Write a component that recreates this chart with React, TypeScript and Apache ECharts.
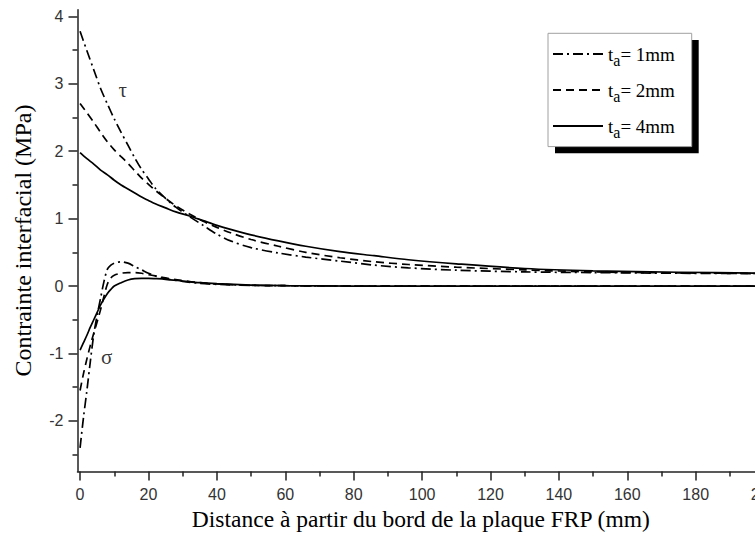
import React, { useEffect, useRef } from "react";
import * as echarts from "echarts";

// Shear stress tau (MPa) vs distance (mm)
const tauX = [0, 2, 4, 6, 8, 10, 12, 14, 16, 18, 20, 22, 25, 28, 32, 36, 40, 44, 50, 58, 66, 76, 86, 96, 110, 130, 150, 175, 200];
const tau1 = [3.78, 3.49, 3.21, 2.93, 2.7, 2.48, 2.28, 2.09, 1.9, 1.73, 1.59, 1.45, 1.3, 1.17, 1.03, 0.9, 0.77, 0.67, 0.57, 0.49, 0.43, 0.37, 0.31, 0.27, 0.235, 0.21, 0.2, 0.19, 0.185];
const tau2 = [2.71, 2.57, 2.43, 2.28, 2.14, 2.02, 1.92, 1.82, 1.71, 1.6, 1.51, 1.42, 1.3, 1.19, 1.07, 0.96, 0.87, 0.79, 0.69, 0.59, 0.5, 0.42, 0.36, 0.32, 0.28, 0.24, 0.21, 0.195, 0.185];
const tau4 = [1.98, 1.89, 1.81, 1.72, 1.65, 1.57, 1.5, 1.44, 1.38, 1.32, 1.27, 1.22, 1.16, 1.1, 1.04, 0.97, 0.9, 0.84, 0.76, 0.67, 0.59, 0.51, 0.45, 0.39, 0.33, 0.26, 0.225, 0.205, 0.19];

// Normal stress sigma (MPa) vs distance (mm)
const sigX = [0, 1, 2, 3, 4, 5, 6, 7, 8, 9, 10, 12, 14, 16, 18, 20, 22, 25, 30, 35, 40, 50, 60, 80, 100, 150, 200];
const sig1 = [-2.4, -1.95, -1.55, -1.12, -0.72, -0.43, -0.18, 0.07, 0.25, 0.31, 0.34, 0.36, 0.34, 0.29, 0.24, 0.19, 0.15, 0.11, 0.07, 0.04, 0.025, 0.01, 0.005, 0, 0, 0, 0];
const sig2 = [-1.55, -1.3, -1.08, -0.88, -0.7, -0.53, -0.35, -0.15, 0.03, 0.12, 0.16, 0.19, 0.2, 0.2, 0.19, 0.17, 0.15, 0.12, 0.08, 0.05, 0.03, 0.01, 0.005, 0, 0, 0, 0];
const sig4 = [-0.95, -0.84, -0.73, -0.61, -0.5, -0.39, -0.28, -0.19, -0.11, -0.05, 0, 0.05, 0.09, 0.11, 0.115, 0.115, 0.11, 0.1, 0.075, 0.05, 0.035, 0.015, 0.005, 0, 0, 0, 0];

const seriesNames = ["ta= 1mm", "ta= 2mm", "ta= 4mm"];

const xMajor = [0, 20, 40, 60, 80, 100, 120, 140, 160, 180, 200];
const xMinor = [10, 30, 50, 70, 90, 110, 130, 150, 170, 190];
const yMajor = [-2, -1, 0, 1, 2, 3, 4];
const yMinor = [-2.5, -1.5, -0.5, 0.5, 1.5, 2.5, 3.5];

const annotations = [
  { name: "τ", value: [12.5, 2.91] },
  { name: "σ", value: [7.8, -1.05] },
];

const pairs = (xs: number[], ys: number[]) => xs.map((x, i) => [x, ys[i]]);

export default function App() {
  const ref = useRef<HTMLDivElement>(null);
  useEffect(() => {
    document.body.style.margin = "0";
    document.body.style.overflow = "hidden";
    document.documentElement.style.overflow = "hidden";
    const chart = echarts.init(ref.current!, null, { renderer: "svg" });
    const axisColor = "#222";
    const serif = "Liberation Serif";
    const sans = "Liberation Sans";
    const dashDot = [10, 4, 2, 4];
    const dashed = [8, 5];
    const styles: any[] = [
      { color: "#000", width: 1.7, type: dashDot },
      { color: "#000", width: 1.7, type: dashed },
      { color: "#000", width: 1.7, type: "solid" },
    ];
    const tauData = [tau1, tau2, tau4];
    const sigData = [sig1, sig2, sig4];
    const lineSeries: any[] = [];
    for (let i = 0; i < 3; i++) {
      lineSeries.push({
        type: "line",
        name: seriesNames[i],
        data: pairs(tauX, tauData[i]),
        symbol: "none",
        showSymbol: false,
        smooth: 0.3,
        color: "#000",
        lineStyle: styles[i],
        xAxisIndex: 0,
        yAxisIndex: 0,
      });
    }
    for (let i = 0; i < 3; i++) {
      lineSeries.push({
        type: "line",
        name: seriesNames[i],
        data: pairs(sigX, sigData[i]),
        symbol: "none",
        showSymbol: false,
        smooth: 0.3,
        color: "#000",
        lineStyle: styles[i],
        xAxisIndex: 0,
        yAxisIndex: 0,
      });
    }
    const baseX = { type: "value", min: -0.75, max: 200, gridIndex: 0, position: "bottom", splitLine: { show: false } };
    const baseY = { type: "value", min: -2.75, max: 4.1, gridIndex: 0, position: "left", splitLine: { show: false } };
    const option: any = {
      animation: false,
      backgroundColor: "#fff",
      grid: {
        left: 77.5,
        top: 9.7,
        width: 686.6,
        height: 461.7,
        containLabel: false,
        outerBoundsMode: "none",
      },
      legend: {
        orient: "vertical",
        left: 552,
        top: 40,
        padding: 0,
        itemGap: 8,
        itemWidth: 50,
        itemHeight: 14,
        z: 10,
        data: seriesNames,
        itemStyle: { opacity: 0, borderWidth: 0 },
        formatter: (name: string) => "{t|t}{s|a}{t|" + name.slice(2) + "}",
        textStyle: {
          color: "#000",
          rich: {
            t: { fontFamily: serif, fontSize: 19, lineHeight: 24, color: "#000" },
            s: { fontFamily: serif, fontSize: 16, lineHeight: 18, padding: [12, 0, 0, 0], color: "#000" },
          },
        },
      },
      graphic: [
        { type: "rect", z: 1, shape: { x: 555, y: 40, width: 143.7, height: 113.3 }, style: { fill: "#000" } },
        { type: "rect", z: 2, shape: { x: 548, y: 33.3, width: 143.7, height: 113.3 }, style: { fill: "#fff", stroke: "#a0a0a0", lineWidth: 1 } },
      ],
      xAxis: [
        {
          ...baseX,
          name: "Distance à partir du bord de la plaque FRP (mm)",
          nameLocation: "middle",
          nameGap: 36,
          nameTextStyle: { fontFamily: serif, fontSize: 23.5, color: "#000" },
          axisLine: { show: true, onZero: false, lineStyle: { color: axisColor, width: 1.5 } },
          axisTick: { show: true, inside: false, customValues: xMajor, length: 9, lineStyle: { color: axisColor, width: 1.5 } },
          axisLabel: { show: true, customValues: xMajor, margin: 15, fontFamily: sans, fontSize: 16, color: "#333" },
        },
        {
          ...baseX,
          axisLine: { show: false, onZero: false },
          axisTick: { show: true, inside: false, customValues: xMinor, length: 5, lineStyle: { color: axisColor, width: 1.5 } },
          axisLabel: { show: false },
        },
      ],
      yAxis: [
        {
          ...baseY,
          name: "Contrainte interfacial (MPa)",
          nameLocation: "middle",
          nameGap: 43,
          nameTextStyle: { fontFamily: serif, fontSize: 24, color: "#000" },
          axisLine: { show: true, onZero: false, lineStyle: { color: axisColor, width: 1.5 } },
          axisTick: { show: true, inside: false, customValues: yMajor, length: 9, lineStyle: { color: axisColor, width: 1.5 } },
          axisLabel: { show: true, customValues: yMajor, margin: 14, fontFamily: sans, fontSize: 16, color: "#333" },
        },
        {
          ...baseY,
          axisLine: { show: false, onZero: false },
          axisTick: { show: true, inside: false, customValues: yMinor, length: 5, lineStyle: { color: axisColor, width: 1.5 } },
          axisLabel: { show: false },
        },
      ],
      series: [
        ...lineSeries,
        {
          type: "scatter",
          name: "annotations",
          data: annotations,
          symbolSize: 1,
          itemStyle: { color: "rgba(0,0,0,0)" },
          label: {
            show: true,
            position: "inside",
            formatter: "{b}",
            fontFamily: serif,
            fontSize: 21,
            color: "#000",
          },
          xAxisIndex: 0,
          yAxisIndex: 0,
        },
      ],
    };
    chart.setOption(option);
    return () => chart.dispose();
  }, []);
  return <div ref={ref} style={{ width: 790, height: 539 }} />;
}
